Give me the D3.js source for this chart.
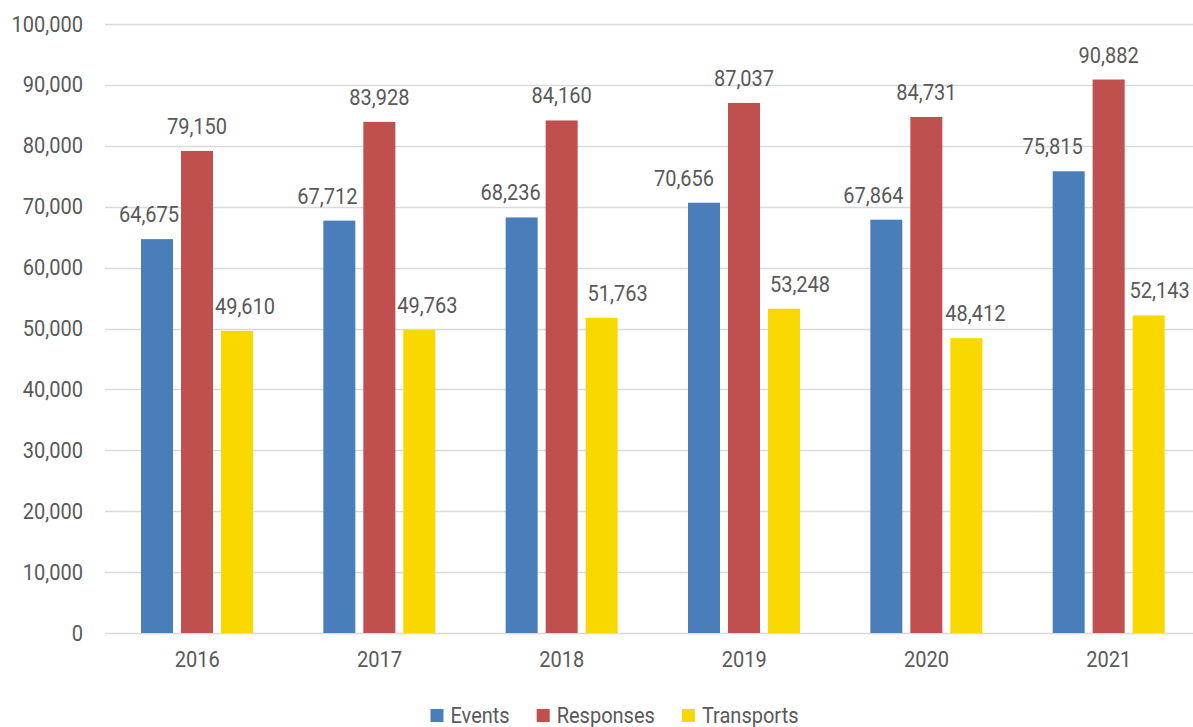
<!DOCTYPE html>
<html>
<head>
<meta charset="utf-8">
<script src="https://cdn.jsdelivr.net/npm/d3@7"></script>
<style>
  html, body { margin: 0; padding: 0; background: #ffffff; }
  svg text { font-family: Roboto, "Liberation Sans", sans-serif; transform-box: fill-box; }
  .c-mid { transform-origin: center; transform: scaleX(0.91); }
  .c-right { transform-origin: right center; transform: scaleX(0.91); }
  .c-left { transform-origin: left center; transform: scaleX(0.91); }
</style>
</head>
<body>
<svg id="chart" width="1193" height="727"></svg>
<script>
// ---- data ----
const years = ["2016", "2017", "2018", "2019", "2020", "2021"];
const seriesNames = ["Events", "Responses", "Transports"];
const events     = [64675, 67712, 68236, 70656, 67864, 75815];
const responses  = [79150, 83928, 84160, 87037, 84731, 90882];
const transports = [49610, 49763, 51763, 53248, 48412, 52143];
const yTicks = [0, 10000, 20000, 30000, 40000, 50000, 60000, 70000, 80000, 90000, 100000];

// ---- style / layout ----
const colors = { Events: "#4a7ebb", Responses: "#c0504d", Transports: "#f9d800" };
const labelShift = {
  Events:     [-8, -12, -11, -20, -13, -16],
  Responses:  [0, 0, 0, 0, 0, 0],
  Transports: [8, 8, 16, 16, 9, 11]
};
const textColor = "#595959";
const gridColor = "#d9d9d9";
const fontSize = 22;

const valuesBySeries = { Events: events, Responses: responses, Transports: transports };

const svg = d3.select("#chart");
const x0 = d3.scaleBand().domain(years).range([106, 1200]).padding(0);
const x1 = d3.scaleBand().domain(seriesNames).range([35, 147]).paddingInner(0.2).paddingOuter(0);
const y = d3.scaleLinear().domain([0, 100000]).range([633, 24]);
const fmt = d3.format(",");

// gridlines
svg.append("g").selectAll("line").data(yTicks).join("line")
  .attr("x1", 105).attr("x2", 1193)
  .attr("y1", d => Math.round(y(d)) + 0.5).attr("y2", d => Math.round(y(d)) + 0.5)
  .attr("stroke", gridColor).attr("stroke-width", 1.3);

// y axis labels
const yAxis = d3.axisLeft(y).tickValues(yTicks).tickFormat(fmt).tickSize(0).tickPadding(0);
const yg = svg.append("g").attr("transform", "translate(83,0)").call(yAxis);
yg.select(".domain").remove();
yg.selectAll("text").attr("font-size", fontSize).attr("fill", textColor)
  .attr("class", "c-right")
  .style("font-family", "Roboto, sans-serif");

// x axis labels
const xAxis = d3.axisBottom(x0).tickSize(0).tickPadding(0);
const xg = svg.append("g").attr("transform", "translate(0,651)").call(xAxis);
xg.select(".domain").remove();
xg.selectAll("text").attr("font-size", fontSize).attr("fill", textColor)
  .attr("class", "c-mid")
  .style("font-family", "Roboto, sans-serif");

// bars
const rows = [];
years.forEach((yr, i) => {
  seriesNames.forEach(s => rows.push({ year: yr, i, series: s, value: valuesBySeries[s][i] }));
});

svg.append("g").selectAll("rect").data(rows).join("rect")
  .attr("x", d => x0(d.year) + x1(d.series))
  .attr("y", d => y(d.value))
  .attr("width", x1.bandwidth())
  .attr("height", d => y(0) - y(d.value))
  .attr("fill", d => colors[d.series]);

// data labels
svg.append("g").selectAll("text").data(rows).join("text")
  .attr("class", "c-mid")
  .attr("x", d => x0(d.year) + x1(d.series) + x1.bandwidth() / 2 + labelShift[d.series][d.i])
  .attr("y", d => y(d.value) - 17)
  .attr("text-anchor", "middle")
  .attr("font-size", fontSize)
  .attr("fill", textColor)
  .text(d => fmt(d.value));

// legend
const legend = svg.append("g");
const items = legend.selectAll("g").data(seriesNames).join("g");
items.append("rect").attr("width", 13).attr("height", 13).attr("y", 709)
  .attr("fill", d => colors[d]);
items.append("text").attr("class", "c-left").attr("x", 20).attr("y", 723).attr("font-size", fontSize)
  .attr("fill", textColor).text(d => d);
const gap = 27;
const widths = [];
items.each(function() {
  const w = 20 + 0.91 * d3.select(this).select("text").node().getComputedTextLength();
  widths.push(w);
});
const total = d3.sum(widths) + gap * (widths.length - 1);
let start = 614.5 - total / 2;
items.attr("transform", (d, i) => {
  const t = `translate(${start},0)`;
  start += widths[i] + gap;
  return t;
});
</script>
</body>
</html>
